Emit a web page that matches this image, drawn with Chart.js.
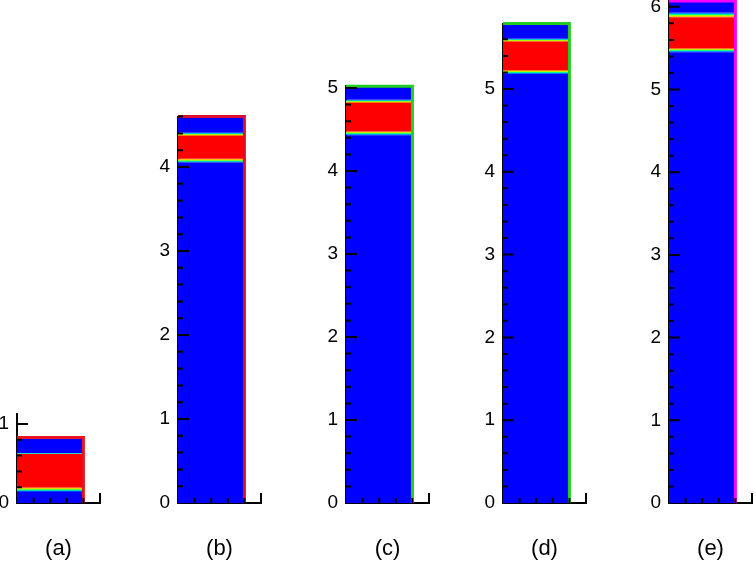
<!DOCTYPE html>
<html>
<head>
<meta charset="utf-8">
<script src="https://cdn.jsdelivr.net/npm/chart.js@4/dist/chart.umd.min.js"></script>
<style>
  body { margin: 0; background: #fff; }
  #lienzo { position: relative; width: 756px; height: 572px; overflow: hidden; }
  .panel { position: absolute; top: 0; height: 572px; }
</style>
</head>
<body>
<div id="lienzo"></div>
<script>
// valores (unidades del eje y)
const paneles = ['(a)', '(b)', '(c)', '(d)', '(e)'];
const topeEje = [1.13, 4.60, 5.02, 5.79, 6.07];
const altoColumna = [0.83, 4.60, 5.02, 5.79, 6.07];
const finAzulBajo = [0.14, 4.05, 4.43, 5.18, 5.45];
const inicioRojo = [0.20, 4.10, 4.48, 5.23, 5.50];
const finRojo = [0.62, 4.37, 4.82, 5.57, 5.87];
const inicioAzulAlto = [0.63, 4.41, 4.86, 5.61, 5.93];
const anchoColumna = [0.8, 0.8, 0.8, 0.8, 0.8];
const pasoMarcas = 0.2;

// colocacion de cada panel en la pagina
const ejeX = [17, 178, 346, 503, 669];
const pxPorUnidad = [79, 84, 83, 82.8, 82.7];
const pxPorX = 83;
const ceroY = 503;
const anchoEjeY = 36;
const margenDer = 6;
const colorBorde = ['#e8141e', '#d8102c', '#22cc22', '#22cc22', '#ff00ff'];
const fuente = 'Liberation Sans, Arial, sans-serif';

function esEntero(v) {
  return Math.abs(v - Math.round(v)) < 1e-6;
}

// interfaz azul/rojo con el degradado del mapa de colores
function degradado(desde, hasta, haciaRojo) {
  return function (context) {
    const chart = context.chart;
    const y = chart.scales.y;
    if (!chart.chartArea || !y) return '#00ff00';
    const g = chart.ctx.createLinearGradient(0, y.getPixelForValue(desde), 0, y.getPixelForValue(hasta));
    let colores = ['#0000ff', '#00a0ff', '#00ff90', '#b0ff00', '#ffc000', '#ff0000'];
    if (!haciaRojo) colores = colores.slice().reverse();
    colores.forEach((c, i) => g.addColorStop(i / (colores.length - 1), c));
    return g;
  };
}

// marcas hacia dentro sobre los ejes
const marcasInternas = {
  id: 'marcasInternas',
  afterDatasetsDraw(chart) {
    const ctx = chart.ctx, area = chart.chartArea;
    const x = chart.scales.x, y = chart.scales.y;
    ctx.save();
    ctx.strokeStyle = '#000';
    ctx.lineWidth = 2;
    ctx.beginPath();
    y.ticks.forEach(t => {
      if (t.value <= 0) return;
      const py = y.getPixelForValue(t.value);
      const largo = esEntero(t.value) ? 11 : 5;
      ctx.moveTo(area.left, py);
      ctx.lineTo(area.left + largo, py);
    });
    x.ticks.forEach(t => {
      if (t.value <= 0) return;
      const px = x.getPixelForValue(t.value);
      const largo = esEntero(t.value) ? 10 : 5;
      ctx.moveTo(px, area.bottom);
      ctx.lineTo(px, area.bottom - largo);
    });
    ctx.stroke();
    ctx.restore();
  }
};

function banda(ancho, bajo, alto, color) {
  return {
    data: [{ x: 0, y: alto }, { x: ancho, y: alto }],
    showLine: true,
    pointRadius: 0,
    borderWidth: 0,
    borderColor: 'rgba(0,0,0,0)',
    backgroundColor: color,
    fill: { value: bajo }
  };
}

const lienzo = document.getElementById('lienzo');

paneles.forEach((nombre, i) => {
  const div = document.createElement('div');
  div.className = 'panel';
  div.style.left = (ejeX[i] - anchoEjeY) + 'px';
  div.style.width = (anchoEjeY + pxPorX + margenDer) + 'px';
  const canvas = document.createElement('canvas');
  div.appendChild(canvas);
  lienzo.appendChild(div);

  const w = anchoColumna[i];
  const contorno = {
    data: [{ x: w, y: 0 }, { x: w, y: altoColumna[i] }, { x: 0, y: altoColumna[i] }],
    showLine: true,
    pointRadius: 0,
    borderWidth: 3,
    borderColor: colorBorde[i],
    fill: false,
    clip: false
  };

  new Chart(canvas, {
    type: 'scatter',
    data: {
      datasets: [
        contorno,
        banda(w, 0, finAzulBajo[i], '#0000ff'),
        banda(w, finAzulBajo[i], inicioRojo[i], degradado(finAzulBajo[i], inicioRojo[i], true)),
        banda(w, inicioRojo[i], finRojo[i], '#ff0000'),
        banda(w, finRojo[i], inicioAzulAlto[i], degradado(finRojo[i], inicioAzulAlto[i], false)),
        banda(w, inicioAzulAlto[i], altoColumna[i], '#0000ff')
      ]
    },
    options: {
      responsive: true,
      maintainAspectRatio: false,
      animation: false,
      layout: {
        padding: { top: ceroY - topeEje[i] * pxPorUnidad[i], right: margenDer, bottom: 0, left: 0 }
      },
      plugins: { legend: { display: false }, tooltip: { enabled: false } },
      scales: {
        x: {
          type: 'linear',
          min: 0,
          max: 1,
          grid: { display: false, drawTicks: false },
          border: { display: true, color: '#000', width: 2 },
          ticks: { display: false, stepSize: pasoMarcas },
          title: {
            display: true,
            text: nombre,
            color: '#000',
            font: { family: fuente, size: 22 },
            padding: { top: 0, bottom: 10 }
          },
          afterFit: s => { s.height = 572 - ceroY; s.paddingLeft = 0; s.paddingRight = 0; }
        },
        y: {
          min: 0,
          max: topeEje[i],
          grid: { display: false, drawTicks: false },
          border: { display: true, color: '#000', width: 2 },
          ticks: {
            stepSize: pasoMarcas,
            includeBounds: false,
            autoSkip: false,
            padding: 8,
            color: '#000',
            font: { family: fuente, size: 19 },
            callback: v => esEntero(v) ? String(Math.round(v)) : ''
          },
          afterFit: s => { s.width = anchoEjeY; s.paddingTop = 0; s.paddingBottom = 0; }
        }
      }
    },
    plugins: [marcasInternas]
  });
});
</script>
</body>
</html>
